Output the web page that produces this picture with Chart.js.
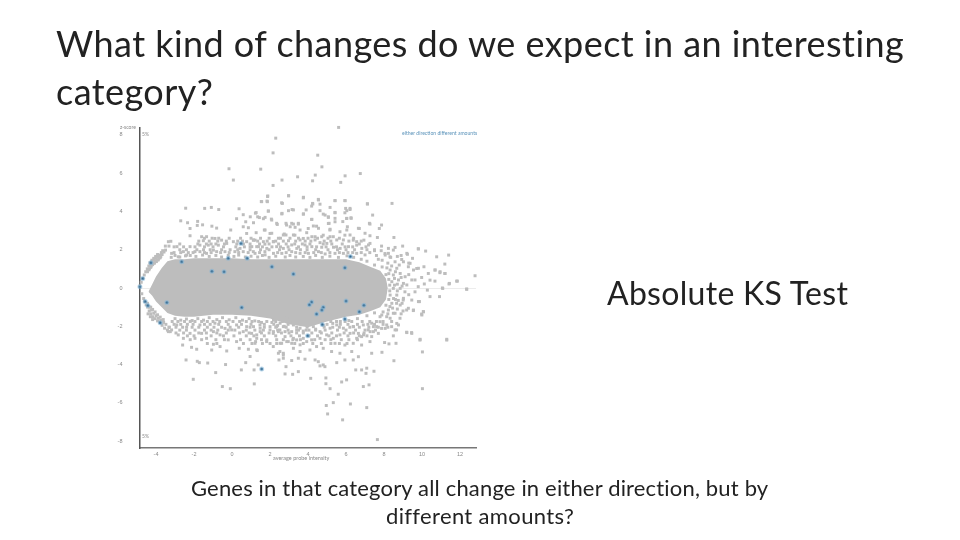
<!DOCTYPE html>
<html>
<head>
<meta charset="utf-8">
<script src="https://cdn.jsdelivr.net/npm/chart.js@4"></script>
<style>
  html, body { margin: 0; padding: 0; background: #fff; overflow: hidden; }
  #wrap { position: relative; width: 960px; height: 540px; font-family: Lato, sans-serif; color: #222; }
  canvas { position: absolute; left: 0; top: 0; filter: blur(0.35px); }
  .t { position: absolute; white-space: nowrap; line-height: 1; }
  .title { font-size: 36px; letter-spacing: 0.45px; }
  .small { font-size: 5px; color: #888; filter: blur(0.3px); }
</style>
</head>
<body>
<div id="wrap">
  <canvas id="myChart" width="960" height="540"></canvas>
  <div class="t title" style="left:56px;top:25px">What kind of changes do we expect in an interesting</div>
  <div class="t title" style="left:56px;top:73px">category?</div>
  <div class="t" style="left:607px;top:277px;font-size:32px;letter-spacing:0.3px">Absolute KS Test</div>
  <div class="t" style="left:191px;top:477px;font-size:22px;letter-spacing:0.17px">Genes in that category all change in either direction, but by</div>
  <div class="t" style="left:386px;top:505px;font-size:22px;letter-spacing:0.35px">different amounts?</div>
  <div class="t small" style="left:120px;top:125px">z-score</div>
  <div class="t small" style="left:142px;top:132px">5%</div>
  <div class="t small" style="left:142px;top:434px">5%</div>
  <div class="t small" style="left:273px;top:456px;font-size:5.5px">average probe intensity</div>
  <div class="t small" style="left:402px;top:131px;font-size:5.1px;color:#5b93ba">either direction different amounts</div>
</div>
<script>
const xTicks = [-4, -2, 0, 2, 4, 6, 8, 10, 12];
const yTicks = [-8, -6, -4, -2, 0, 2, 4, 6, 8];

// dense middle of the cloud, outline
const coreX = [-4.4, -4.2, -4, -3.7, -3.4, -3, -2.5, -2, -1, 0, 1, 2, 3, 4, 5, 6, 6.7, 7.3, 7.8, 8.1, 8.2];
const coreTop = [-0.2, 0.2, 0.6, 1.05, 1.4, 1.5, 1.5, 1.55, 1.55, 1.55, 1.5, 1.5, 1.5, 1.5, 1.5, 1.5, 1.35, 1.1, 0.9, 0.5, 0];
const coreBottom = [-0.2, -0.4, -0.7, -1, -1.3, -1.45, -1.5, -1.5, -1.4, -1.4, -1.45, -1.6, -1.9, -2.05, -1.75, -1.5, -1.4, -1.2, -1, -0.6, 0];

// crescents on the left, next to the axis
const crescentUp = [[-4.85,0.1],[-4.78,0.3],[-4.7,0.5],[-4.62,0.68],[-4.54,0.85],[-4.46,1],[-4.38,1.15],[-4.3,1.25],[-4.2,1.38],[-4.1,1.48],[-4,1.56],[-3.9,1.64],[-3.8,1.72],[-3.72,1.85],[-3.65,1.95],[-4.45,0.85],[-4.35,1],[-4.25,1.15],[-4.15,1.28],[-4.05,1.38],[-3.95,1.45],[-3.85,1.55],[-3.75,1.65],[-4.38,0.95],[-4.28,1.08],[-4.18,1.22],[-4.08,1.3],[-3.98,1.38],[-3.88,1.47],[-3.78,1.58],[-3.68,1.75],[-3.58,1.88],[-3.5,1.98],[-4.32,1.32],[-4.22,1.45],[-4.12,1.55],[-4.02,1.65],[-3.92,1.75]];
const crescentDown = [[-4.75,-0.3],[-4.65,-0.55],[-4.6,-0.7],[-4.52,-0.88],[-4.44,-1],[-4.36,-1.2],[-4.28,-1.35],[-4.18,-1.5],[-4.05,-1.6],[-3.92,-1.72],[-3.8,-1.8],[-3.68,-1.95],[-3.55,-2.1],[-3.4,-2.2],[-3.25,-2.28],[-4.45,-0.8],[-4.35,-1],[-4.25,-1.15],[-4.12,-1.32],[-4,-1.45],[-3.88,-1.58],[-3.75,-1.68],[-3.6,-1.8],[-4.28,-1],[-4.18,-1.12],[-4.05,-1.25],[-3.92,-1.4],[-3.78,-1.52],[-3.62,-1.65],[-3.48,-1.9],[-3.32,-2.05],[-4.42,-1.35],[-4.3,-1.5],[-4.18,-1.65]];

const edgeTop = [[-3.2,1.6],[-3,1.7],[-2.75,1.62],[-2.45,1.68],[-2.2,1.7],[-1.9,1.65],[-1.55,1.72],[-1.2,1.65],[-0.85,1.7],[-0.55,1.62],[-0.2,1.7],[0.1,1.65],[0.35,1.72],[0.7,1.62],[1,1.66],[1.35,1.62],[1.6,1.7],[1.95,1.6],[2.3,1.66],[2.8,1.62],[3.05,1.7],[3.35,1.62],[3.75,1.65],[4.1,1.6],[4.4,1.7],[4.75,1.6],[5.15,1.66],[5.6,1.6],[6.05,1.68],[6.4,1.6],[6.8,1.5],[7.1,1.4],[7.5,1.2],[7.9,1.1]];
const edgeBottom = [[-3,-1.6],[-2.7,-1.68],[-2.4,-1.62],[-2.1,-1.7],[-1.8,-1.6],[-1.5,-1.68],[-1.2,-1.55],[-0.8,-1.65],[-0.5,-1.55],[-0.15,-1.66],[0.2,-1.55],[0.55,-1.68],[0.9,-1.6],[1.2,-1.72],[1.55,-1.8],[2.1,-1.8],[2.4,-1.95],[2.75,-2],[3.4,-2.2],[3.75,-2.25],[4.05,-2.2],[4.4,-2.15],[4.8,-1.95],[5.3,-1.85],[5.7,-1.75],[6.15,-1.7],[6.6,-1.6],[7.1,-1.45],[7.5,-1.3]];

// rows of points just outside the dense middle: [y, [x, x, ...]]
const rowsAbove = [
  [1.85, [-3.05,-2.7,-2.3,-2.05,-1.45,-1.1,-0.6,-0.15,0.35,0.85,1.45,2.4,2.85,3.35,3.85,4.3,4.7,5.15,5.65,6.1,6.35,6.8,7.25]],
  [2.0, [-2.75,-2.4,-1.85,-1.5,-1.15,-0.55,-0.1,0.3,0.95,1.5,1.95,2.5,3,3.6,3.95,4.4,5.05,5.55,6,6.45,7.1,7.5]],
  [2.15, [-3.05,-2.55,-1.95,-1.45,-1,-0.45,0.2,0.65,0.95,1.6,2.1,2.55,2.95,3.5,3.95,4.45,4.95,5.5,5.95,6.35,7.05]],
  [2.3, [-2.75,-1.8,-1.35,-1.1,-0.85,-0.4,0.25,0.6,0.95,1.45,1.95,2.45,2.85,3.3,3.7,4.1,4.8,5.25,5.8,6.7]],
  [2.45, [-1.75,-1.2,-0.75,-0.3,0.3,0.55,1.35,1.85,2.3,2.7,3.35,3.85,4.15,4.85,5.2,6.15,6.8]],
  [2.6, [-1.45,-1.05,-0.7,-0.15,0.45,1,1.5,1.95,2.55,3.05,3.5,4,4.5,5.05,5.65,6.4]]
];
const rowsBelow = [
  [-1.75, [-3.15,-2.85,-2.5,-2.2,-1.95,-1.6,-1.3,-1,-0.65,-0.3,0.05,0.4,0.75,1.05,1.4,2.3,2.65,5.2,5.5,5.95,6.3,6.85,7.25,7.6]],
  [-1.9, [-3.05,-2.7,-2.35,-2.05,-1.45,-1.15,-0.7,-0.2,0.5,1,1.7,2.2,2.95,5,5.7,6.1,6.6,7.15,7.5,7.95]],
  [-2.05, [-3.3,-2.95,-2.6,-2.1,-1.75,-1.3,-0.95,-0.55,-0.1,0.35,0.95,1.7,2.3,2.85,3.4,3.95,4.85,5.3,5.65,6.2,6.7,7.2,7.7,8.2]],
  [-2.2, [-2.75,-2.4,-1.95,-1.45,-1.1,-0.75,-0.2,0.15,0.75,1.2,1.65,2.4,2.95,3.5,3.9,4.4,4.9,5.55,6,6.5,7,7.55]],
  [-2.35, [-2.95,-2.55,-1.75,-1.35,-0.8,-0.3,0.4,0.9,1.55,1.95,2.6,3,3.4,3.75,4.2,4.7,5.25,5.9,6.4,6.95]],
  [-2.5, [-2.35,-2,-1.1,-0.45,0.1,0.75,1.15,1.7,2.3,3.1,3.55,4.05,4.5,5.1,5.5,6.1,6.7,7.1]],
  [-2.7, [-2.2,-1.6,-0.85,-0.4,0.45,0.95,1.55,2.35,2.7,3.2,3.6,4.35,4.9,5.2,5.75,6.15,6.6]],
  [-2.9, [-1.3,-0.8,0.6,1.05,1.6,2,2.35,3.3,3.75,4.25,4.7,5.2,5.65,6.05]]
];

const fringeUpLeft = [[2.3,7.83],[2.16,7.06],[-0.16,6.23],[1.51,6.21],[0.07,5.64],[2.63,5.64],[2.16,5.36],[1.87,4.78],[2.98,4.82],[1.54,4.52],[1.84,4.54],[2.61,4.45],[-2.44,4.17],[-1.44,4.16],[-1.09,4.21],[-0.7,4.1],[0.37,4.14],[1.91,4.02],[2.63,3.9],[1.23,3.91],[0.59,3.83],[0.96,3.72],[1.35,3.72],[1.65,3.62],[2.07,3.6],[-2.7,3.51],[-2.34,3.41],[-1.81,3.48],[0.24,3.62],[0.72,3.46],[2.38,3.32],[2.87,3.29],[-1.83,3.27],[-1.55,3.3],[-1.06,3.23],[-2.21,3.11],[-0.81,3.13],[-0.07,3.03],[0.59,3.2],[0.86,3.15],[1.7,3.03],[2,2.85],[2.75,2.82],[-2.21,2.73],[0.77,2.85],[1.21,2.5],[-3.35,2.42],[-3.22,2.44],[-3.51,2.19],[-3.32,2.19],[-3.18,1.81],[-2.9,2.16],[-2.56,1.9],[-2.21,2.16],[-1.95,1.9],[-1.69,2.24],[-1.6,2.68],[-1.34,2.68],[-1.51,2.47],[-1.25,2.24],[-0.9,2.59],[-0.72,2.24],[-0.55,2.5],[-0.28,2.33],[-0.37,1.9],[0.07,2.42],[0.42,2.07],[0.77,2.42],[1.12,2.5],[1.3,2.16],[1.73,2.29],[2.17,2.42],[2.7,2.77],[-1.69,1.9],[-0.98,1.98],[-0.81,1.9],[0.15,1.9],[1.12,1.9],[1.73,1.9],[0.59,1.9],[-2.39,1.72],[-1.34,1.81],[-2.83,1.63]];
const fringeUpMid = [[1.88,4.81],[2.97,4.82],[3.76,4.74],[4.55,4.6],[1.56,4.51],[1.86,4.51],[2.65,4.42],[4.25,4.39],[5.42,4.56],[5.95,4.56],[7.13,4.39],[1.91,4.02],[2.97,4.04],[3.23,4.08],[3.9,4.08],[4.63,4.04],[5.42,3.95],[6.04,4.04],[6.21,4.16],[1.27,3.94],[2.62,3.87],[3.76,3.87],[1.74,3.69],[1.44,3.68],[2.09,3.55],[4.2,3.59],[4.9,3.81],[5.07,3.69],[5.42,3.64],[6.27,3.64],[6.04,3.64],[1.13,3.41],[2.35,3.38],[2.84,3.38],[3.14,3.38],[3.49,3.38],[4.28,3.24],[5.11,3.38],[5.83,3.47],[7.23,3.38],[3.06,3.2],[3.32,3.17],[4.55,3.12],[5.16,3.07],[3.58,3.03],[6.04,3.03],[6.65,3.12],[1.74,3.03],[1.27,2.89],[2.09,2.86],[2.84,2.77],[3.23,2.77],[3.93,2.89],[4.2,2.68],[4.72,2.68],[5.16,2.68],[6.21,2.77],[7,2.86],[1.13,2.51],[1.65,2.42],[2.18,2.42],[2.44,2.6],[2.97,2.47],[3.58,2.51],[3.84,2.25],[4.37,2.51],[4.63,2.37],[4.99,2.33],[5.51,2.51],[5.86,2.51],[6.56,2.42],[7.18,2.25],[1.04,2.16],[1.39,2.16],[1.83,2.07],[2.35,2.16],[2.7,2.07],[3.14,2.25],[3.41,2.07],[4.2,2.16],[4.72,2.13],[5.34,2.13],[5.69,2.07],[6.13,2.16],[6.83,2.07],[1.21,1.81],[1.74,1.73],[2.18,1.81],[2.62,1.81],[3.14,1.9],[3.58,1.81],[4.02,1.81],[4.55,1.9],[4.9,1.78],[5.42,1.81],[5.86,1.81],[6.56,1.81],[7,1.73]];
const fringeUpRight = [[5.61,8.39],[4.51,6.94],[4.73,6.33],[3.45,5.81],[4.38,5.9],[5.95,5.86],[6.75,5.98],[4.24,5.6],[5.72,5.52],[3.75,4.71],[4.54,4.63],[5.42,4.57],[5.94,4.57],[4.24,4.42],[4.19,4.28],[7.12,4.4],[8.42,4.42],[4.63,4.38],[5.16,4.21],[5.98,4.16],[6.21,4.1],[3.16,4.1],[3.75,3.86],[5.42,3.93],[5.94,3.93],[7.4,3.81],[4.8,3.86],[5.07,3.72],[4.19,3.58],[6.03,3.63],[6.26,3.67],[5.07,3.37],[5.42,3.46],[7.26,3.34],[7.87,3.29],[7.75,3.11],[6.7,3.11],[6.07,3.2],[3.23,3.34],[3.49,3.34],[4.01,3.11],[4.45,3.23],[5.15,3.03],[5.68,2.94],[7.26,2.73],[7.65,2.64],[8.52,2.64],[6.94,2.5],[6.38,2.5],[5.94,2.76],[5.33,2.68],[4.8,2.76],[4.37,2.68],[3.75,2.59],[3.31,2.76],[6.56,2.24],[7.26,2.33],[7.87,2.19],[8.98,2.19],[9.8,2.05],[10.19,1.93],[8.23,2.07],[8.58,2.12],[9.23,1.76],[10.77,1.63],[11.4,1.72],[8.05,1.8],[8.31,1.63],[8.93,1.49],[9.37,1.29],[9.72,1.02],[10.1,1.11],[11.2,1.25],[10.33,0.76],[10.68,0.94],[10.94,0.8],[11.2,0.76],[12.79,0.64],[9.98,0.55],[10.42,0.41],[10.68,0.36],[11.82,0.36],[10.12,0.21],[10.28,-0.11],[11.42,0.21],[11.07,0],[12.35,-0.07],[9.8,0.07],[9.63,-0.2]];
const fringeRight = [[8.49,1.98],[8.23,1.81],[8.06,1.72],[9.02,1.37],[8.58,1.37],[9.2,1.81],[9.81,2.04],[9.28,1.11],[9.55,0.94],[9.81,1.03],[8.32,0.94],[8.67,1.03],[8.49,0.68],[8.85,0.76],[9.11,0.59],[8.41,0.33],[8.76,0.42],[9.02,0.24],[9.46,0.42],[8.49,-0.02],[8.85,-0.02],[9.2,0.16],[9.63,0.42],[8.32,-0.37],[8.67,-0.37],[9.02,-0.54],[9.46,-0.63],[9.81,-0.71],[8.41,-0.8],[8.85,-0.89],[9.28,-1.06],[9.55,-1.15],[10.07,-1.24],[9.99,-1.41],[8.23,-1.15],[8.58,-1.32],[7.88,-1.41],[8.32,-1.58],[8.67,-1.85],[8.06,-2.11],[8.58,-2.19],[7.79,-1.76],[7.44,-2.02],[8.76,-1.93],[9.2,-2.33],[9.46,-2.37],[8.49,-2.5],[7.7,-2.37],[7.27,-2.28],[7.35,-2.54],[6.92,-2.45],[9.9,-2.68],[11.3,-2.68],[10.69,0.94],[10.95,0.85],[11.21,0.76],[12.35,-0.05],[11.86,0.36],[11.44,0.24],[11.09,-0.02],[10.92,-0.45],[10.42,-0.45],[9.86,-0.71],[8.1,0.7],[8.25,0.45],[8.3,0.15],[8.3,-0.15],[8.25,-0.6],[8.1,-0.9],[8.7,0.2],[8.6,-0.6],[8.2,1.3],[8.4,1.15],[8.15,1.05],[8.6,0.85],[8.25,0.75],[8.55,0.5],[8.9,0.55],[8.95,0.1],[8.55,0.15],[8.7,-0.15],[9.1,-0.2],[9.3,-0.35],[8.5,-0.55],[8.75,-0.65],[8.95,-0.8],[8.45,-1.05],[8.7,-1.1],[9,-1.2],[7.95,-1.25],[8.2,-1.35],[8.4,-1.75],[7.95,-1.75],[8.9,-1.35],[9.3,0.7],[9.3,1.3],[8.8,1.2],[8.35,1.6],[8.7,1.65],[7.7,1.5],[7.9,1.45],[7.6,1.7],[7.85,1.95],[7.5,1.95],[8.9,1.7],[9.5,1.55]];
const fringeDownRight = [[11.3,-2.72],[9.89,-2.72],[10.02,-3.34],[10.02,-5.26],[9.19,-2.31],[9.45,-2.33],[8.63,-2.89],[8.26,-2.92],[8.03,-2.85],[7.89,-3.36],[8.52,-3.8],[7.35,-3.41],[7.47,-4.35],[7.09,-4.19],[7.05,-4.46],[6.82,-4.28],[6.51,-4.28],[7.21,-5.06],[6.91,-5.15],[6.03,-4.8],[5.77,-4.91],[5.16,-5.26],[4.94,-4.7],[4.94,-5],[4.14,-4.72],[3.49,-4.37],[3.19,-4.51],[5.59,-5.55],[5.33,-5.99],[4.96,-6.14],[6.23,-6.06],[7.09,-6.25],[5.03,-6.58],[5.82,-6.89],[7.65,-7.92],[6.38,-2.02],[6.65,-2.37],[7.17,-2.19],[7.44,-2.28],[6.56,-2.63],[6.82,-2.54],[6.21,-2.37],[5.68,-2.45],[5.33,-2.63],[4.98,-2.45],[4.63,-2.63],[4.19,-2.71],[3.75,-2.63],[3.4,-2.71],[3.14,-2.89],[5.42,-2.89],[5.94,-2.98],[6.38,-2.89],[6.82,-2.98],[7.26,-2.8],[4.8,-3.15],[4.45,-3.06],[4.1,-3.24],[3.58,-3.32],[3.23,-3.15],[5.24,-3.32],[5.68,-3.41],[6.3,-3.32],[6.65,-3.59],[5.94,-3.76],[6.38,-3.76],[5.51,-3.9],[4.8,-4.02],[4.54,-3.85],[4.37,-3.76],[3.84,-3.72],[3.49,-3.67],[3.14,-3.79],[4.89,-4.11],[4.63,-4.07],[6.91,-1.93],[7.35,-1.84],[7.61,-2.02],[7.87,-2.11],[8.14,-1.93],[8.4,-2.02],[8.66,-2.19],[7.79,-1.5],[8.14,-1.5],[8.49,-1.32],[8.84,-1.58],[9.19,-1.15],[9.54,-1.18],[9.84,-0.71],[10.07,-1.24],[9.98,-1.36],[8.31,-0.97],[8.66,-0.8],[9.01,-0.63]];
const fringeDownLeft = [[-2.42,-3.76],[-1.83,-3.83],[-1.72,-3.9],[-1.28,-3.92],[-0.86,-4.42],[-0.34,-4],[-2.04,-4.77],[-0.51,-5.15],[-0.09,-5.26],[0.49,-4.28],[0.72,-3.9],[0.95,-3.58],[1.16,-4.28],[1.38,-4.02],[1.17,-5.01],[2.79,-4.49],[2.47,-3.76],[2.7,-3.67],[2.84,-4.11],[2.7,-3.41],[2.52,-3.32],[-3.35,-2.28],[-3.18,-2.19],[-2.83,-2.45],[-2.56,-2.63],[-2.21,-2.37],[-1.95,-2.63],[-1.6,-2.37],[-1.34,-2.63],[-0.98,-2.28],[-0.63,-2.45],[-0.2,-2.71],[0.24,-2.8],[-0.02,-2.19],[0.59,-2.28],[1.03,-2.37],[1.3,-2.63],[1.82,-2.8],[2.17,-2.37],[2.52,-2.19],[2.79,-2.54],[2.96,-2.8],[-2.6,-2.98],[-2.13,-3.1],[-1.86,-3.2],[-0.98,-2.94],[-0.63,-3.06],[-1.07,-3.24],[-0.28,-3.29],[0.38,-3.15],[0.86,-3.2],[1.33,-3.27],[1.24,-2.8],[2.17,-3.06],[2.61,-2.89],[-2.91,-1.93],[-2.39,-2.05],[-1.69,-1.93],[-0.9,-1.84],[-0.37,-2.11],[0.24,-1.93],[0.77,-2.02],[1.47,-1.93],[2,-2.19],[2.35,-2.02],[1.13,-2.02],[1.48,-2.1],[1.83,-1.75],[2.18,-1.67],[2.53,-1.84],[2.88,-1.58],[3.23,-1.93],[3.58,-2.1],[4.28,-2.02],[4.63,-2.28],[5.16,-2.1],[5.51,-1.93],[5.86,-2.1],[6.39,-2.02],[1.3,-2.45],[1.83,-2.71],[2.18,-2.28],[2.53,-2.89],[2.88,-2.8],[3.23,-2.63],[3.58,-2.97],[3.93,-2.8],[2.44,-3.41],[2.7,-3.5],[1.21,-2.89],[1.3,-3.23],[1.48,-2.28],[3.14,-2.28],[2.79,-2.28],[2.44,-2.28],[2,-2.02],[2.7,-2.02],[3.06,-1.75]];

const categoryGenes = [[-4.85,0.07],[-4.7,0.5],[-4.27,1.32],[-2.65,1.37],[-1.06,0.88],[-0.42,0.85],[-0.2,1.55],[0.47,2.33],[0.8,1.55],[2.1,1.11],[6.23,1.65],[5.94,1.06],[3.23,0.73],[-4.57,-0.71],[-4.43,-0.92],[-3.43,-0.76],[-3.78,-1.81],[0.51,-1.02],[1.56,-4.23],[4.19,-0.73],[4.07,-0.87],[4.8,-1.01],[4.73,-1.15],[4.45,-1.36],[6,-0.68],[6.94,-0.9],[6.7,-1.24],[5.94,-1.62],[4.75,-1.91],[3.98,-2.49]];

const GREY = '#bdbdbd';
const toXY = p => ({x: p[0], y: p[1]});
const rowPoints = rows => rows.flatMap(r => r[1].map(x => [x, r[0]]));
const allGrey = [].concat(crescentUp, crescentDown, edgeTop, edgeBottom, rowPoints(rowsAbove), rowPoints(rowsBelow), fringeUpLeft, fringeUpMid, fringeUpRight, fringeRight, fringeDownRight, fringeDownLeft);

new Chart(document.getElementById('myChart'), {
  type: 'scatter',
  data: {
    datasets: [
      {
        type: 'line',
        data: coreX.map((x, i) => ({x: x, y: coreBottom[i]})),
        borderWidth: 0,
        pointRadius: 0,
        tension: 0,
        fill: false,
        order: 3
      },
      {
        type: 'line',
        data: coreX.map((x, i) => ({x: x, y: coreTop[i]})),
        borderWidth: 0,
        pointRadius: 0,
        tension: 0,
        backgroundColor: GREY,
        fill: 0,
        order: 3
      },
      {
        data: allGrey.map(toXY),
        pointStyle: 'rect',
        pointRadius: 2.1,
        backgroundColor: GREY,
        borderWidth: 0,
        clip: false,
        order: 2
      },
      {
        data: categoryGenes.map(toXY),
        pointRadius: 1.5,
        backgroundColor: '#2c5a7c',
        borderColor: 'rgba(130,180,215,0.55)',
        borderWidth: 2,
        clip: false,
        order: 1
      }
    ]
  },
  options: {
    responsive: false,
    animation: false,
    layout: { padding: { left: 100, right: 484, top: 128, bottom: 72 } },
    plugins: { legend: { display: false }, tooltip: { enabled: false } },
    scales: {
      x: {
        type: 'linear',
        min: -4.87,
        max: 12.84,
        afterFit: s => { s.height = 20; },
        afterBuildTicks: s => { s.ticks = xTicks.map(v => ({value: v})); },
        ticks: { color: '#888', font: { size: 5.5 }, padding: 1, maxRotation: 0, autoSkip: false },
        grid: { display: false, tickLength: 2 },
        border: { color: '#777', width: 1.5 }
      },
      y: {
        min: -8.36,
        max: 8.36,
        afterFit: s => { s.width = 39.5; },
        afterBuildTicks: s => { s.ticks = yTicks.map(v => ({value: v})); },
        ticks: { color: '#888', font: { size: 5.5 }, padding: 17, autoSkip: false },
        grid: {
          color: c => c.tick && c.tick.value === 0 ? '#ececec' : 'transparent',
          tickLength: 0
        },
        border: { color: '#555', width: 1.5 }
      }
    }
  }
});
</script>
</body>
</html>
